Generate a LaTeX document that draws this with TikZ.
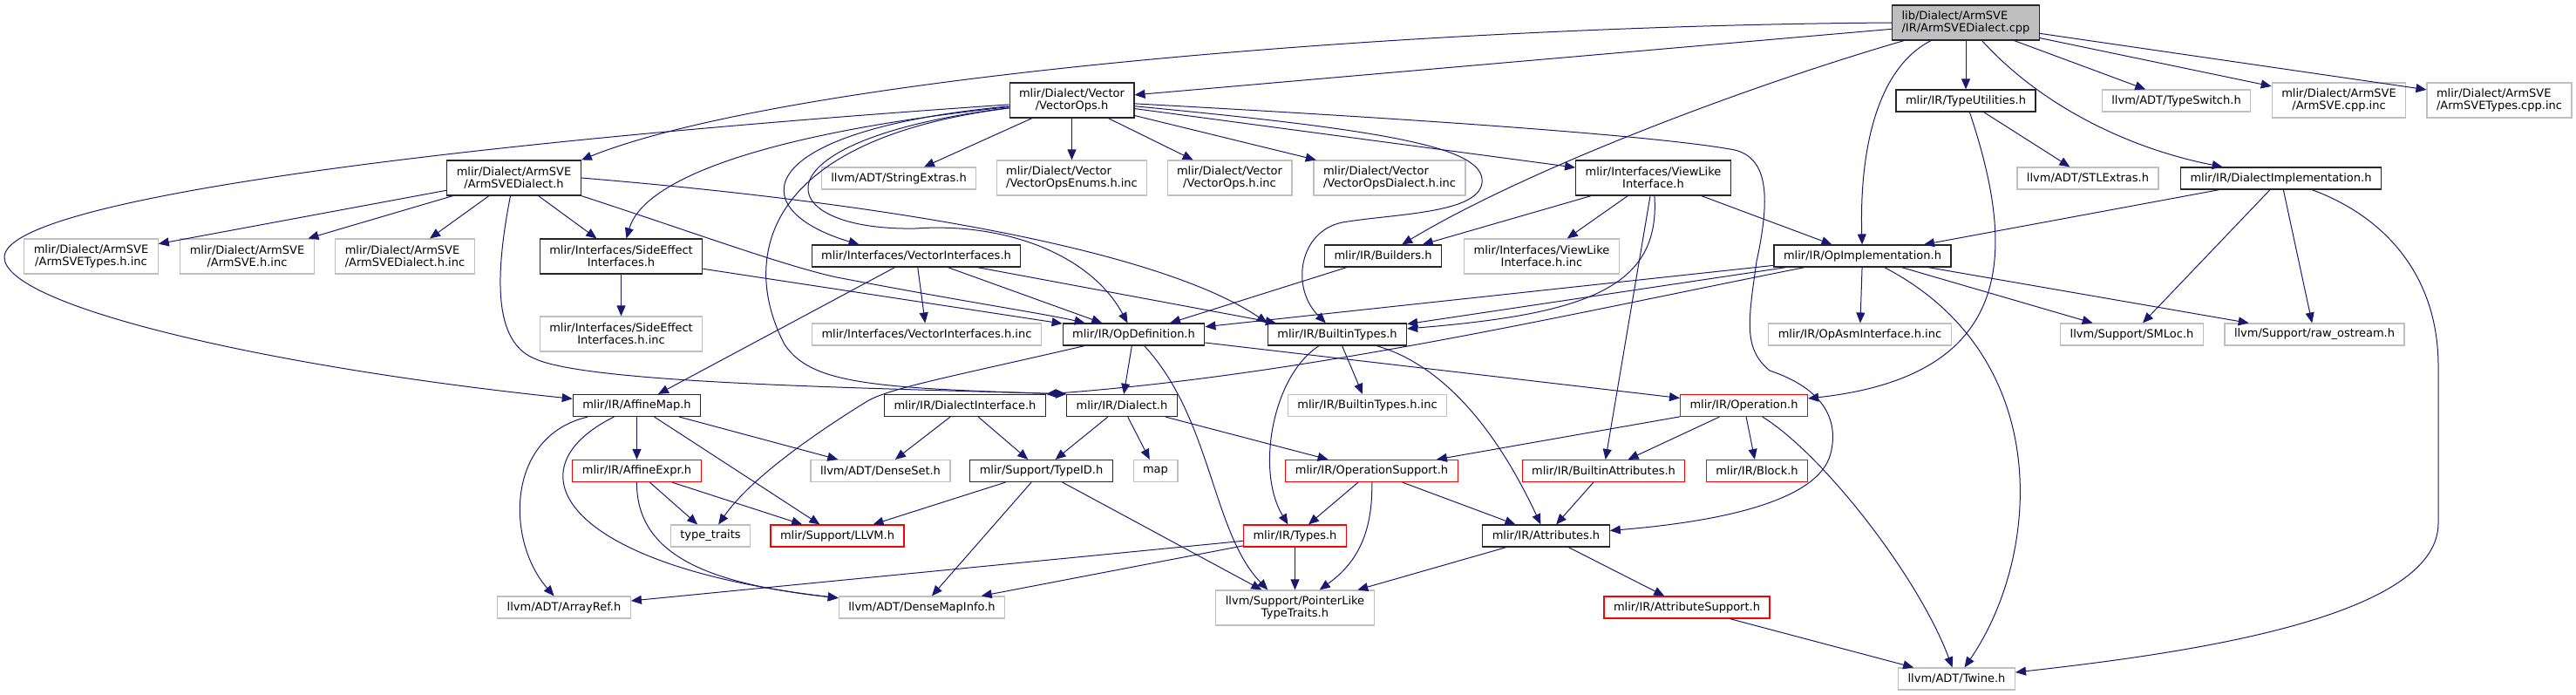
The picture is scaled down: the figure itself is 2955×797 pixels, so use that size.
\documentclass[tikz,border=0pt]{standalone}
\usepackage{fontspec}
\setmainfont{DejaVu Sans}
\usetikzlibrary{arrows.meta}
\definecolor{depblue}{RGB}{25,25,112}
\definecolor{nodocgray}{RGB}{191,191,191}

\begin{document}
\begin{tikzpicture}[x=1pt, y=-1pt, font=\fontsize{13}{14}\selectfont,
  incl/.style={draw=#1, line width=1.15pt, fill=white, inner xsep=11pt,
               inner ysep=2pt, minimum height=25pt, align=center},
  hdr/.style={incl=black!85},
  nodoc/.style={incl=nodocgray},
  trunc/.style={incl=red},
  mainfile/.style={incl=black!85, fill=nodocgray},
  two/.style={minimum height=40pt},
  dep/.style={draw=depblue, line width=1pt, -{Triangle[length=12pt, width=10pt]}}
]
  \useasboundingbox (0,0) rectangle (2955,797);

  \node[mainfile,two,align=left] (cpp) at (2255,26) {lib/Dialect/ArmSVE\\/IR/ArmSVEDialect.cpp};

  \node[hdr,two]   (vops)       at (1229.5,115) {mlir/Dialect/Vector\\/VectorOps.h};
  \node[hdr]       (typeutil)   at (2255,115.5) {mlir/IR/TypeUtilities.h};
  \node[nodoc]     (typeswitch) at (2496.5,115.5) {llvm/ADT/TypeSwitch.h};
  \node[nodoc,two] (svecppinc)  at (2683,115)   {mlir/Dialect/ArmSVE\\/ArmSVE.cpp.inc};
  \node[nodoc,two,align=left] (svetypescppinc) at (2867,115) {mlir/Dialect/ArmSVE\\/ArmSVETypes.cpp.inc};

  \node[hdr,two]   (svedialect) at (589.5,204)  {mlir/Dialect/ArmSVE\\/ArmSVEDialect.h};
  \node[nodoc]     (strextras)  at (1031,204.5) {llvm/ADT/StringExtras.h};
  \node[nodoc,two,align=left] (enumsinc) at (1229.5,204) {mlir/Dialect/Vector\\/VectorOpsEnums.h.inc};
  \node[nodoc,two] (vopsinc)    at (1410.5,204) {mlir/Dialect/Vector\\/VectorOps.h.inc};
  \node[nodoc,two,align=left] (vdialinc) at (1594,204) {mlir/Dialect/Vector\\/VectorOpsDialect.h.inc};
  \node[hdr,two]   (viewlike)   at (1896.5,204) {mlir/Interfaces/ViewLike\\Interface.h};
  \node[nodoc]     (stlextras)  at (2395,204.5) {llvm/ADT/STLExtras.h};
  \node[hdr]       (dialimpl)   at (2616.5,204.5) {mlir/IR/DialectImplementation.h};

  \node[nodoc,two] (svetypesinc) at (104.5,294) {mlir/Dialect/ArmSVE\\/ArmSVETypes.h.inc};
  \node[nodoc,two] (sveinc)      at (283.5,294) {mlir/Dialect/ArmSVE\\/ArmSVE.h.inc};
  \node[nodoc,two,align=left] (svedialinc) at (464.5,294) {mlir/Dialect/ArmSVE\\/ArmSVEDialect.h.inc};
  \node[hdr,two]   (sideeff)     at (712.5,294) {mlir/Interfaces/SideEffect\\Interfaces.h};
  \node[hdr]       (vecintf)     at (1051,293.5) {mlir/Interfaces/VectorInterfaces.h};
  \node[hdr]       (builders)    at (1586.5,293.5) {mlir/IR/Builders.h};
  \node[nodoc,two] (viewlikeinc) at (1768.5,294) {mlir/Interfaces/ViewLike\\Interface.h.inc};
  \node[hdr]       (opimpl)      at (2136.5,293.5) {mlir/IR/OpImplementation.h};

  \node[nodoc,two] (sideeffinc)  at (712.5,383) {mlir/Interfaces/SideEffect\\Interfaces.h.inc};
  \node[nodoc]     (vecintfinc)  at (1063,383.5) {mlir/Interfaces/VectorInterfaces.h.inc};
  \node[hdr]       (opdef)       at (1300.5,383.5) {mlir/IR/OpDefinition.h};
  \node[hdr]       (btypes)      at (1534,383.5) {mlir/IR/BuiltinTypes.h};
  \node[nodoc]     (asminc)      at (2133.5,383.5) {mlir/IR/OpAsmInterface.h.inc};
  \node[nodoc]     (smloc)       at (2445.5,383.5) {llvm/Support/SMLoc.h};
  \node[nodoc]     (rawos)       at (2655,383.5) {llvm/Support/raw\_ostream.h};

  \node[hdr]       (affmap)      at (730.5,465) {mlir/IR/AffineMap.h};
  \node[hdr]       (dialintf)    at (1107,465) {mlir/IR/DialectInterface.h};
  \node[hdr]       (dialect)     at (1287,465) {mlir/IR/Dialect.h};
  \node[nodoc]     (btypesinc)   at (1568.5,465) {mlir/IR/BuiltinTypes.h.inc};
  \node[trunc]     (operation)   at (2000.5,465) {mlir/IR/Operation.h};

  \node[trunc]     (affexpr)     at (730.5,540) {mlir/IR/AffineExpr.h};
  \node[nodoc]     (denseset)    at (1010,540) {llvm/ADT/DenseSet.h};
  \node[hdr]       (typeid)      at (1194.5,540) {mlir/Support/TypeID.h};
  \node[nodoc]     (map)         at (1325.5,540) {map};
  \node[trunc]     (opsupport)   at (1573.5,540) {mlir/IR/OperationSupport.h};
  \node[trunc]     (battrs)      at (1839.5,540) {mlir/IR/BuiltinAttributes.h};
  \node[trunc]     (block)       at (2015.5,540) {mlir/IR/Block.h};

  \node[nodoc]     (typetraits)  at (815,614.5) {type\_traits};
  \node[trunc]     (llvmh)       at (960.5,614.5) {mlir/Support/LLVM.h};
  \node[trunc]     (types)       at (1485.5,614.5) {mlir/IR/Types.h};
  \node[hdr]       (attrs)       at (1773.5,614.5) {mlir/IR/Attributes.h};

  \node[nodoc]     (arrayref)    at (647,696.5) {llvm/ADT/ArrayRef.h};
  \node[nodoc]     (densemap)    at (1057.5,696.5) {llvm/ADT/DenseMapInfo.h};
  \node[nodoc,two] (ptrlike)     at (1485.5,697) {llvm/Support/PointerLike\\TypeTraits.h};
  \node[trunc]     (attrsupport) at (1935,696.5) {mlir/IR/AttributeSupport.h};

  \node[nodoc]     (twine)       at (2244.5,778.5) {llvm/ADT/Twine.h};

  \draw[dep] (cpp.west) .. controls (1600,30) and (900,90) .. (svedialect.north east);
  \draw[dep] (cpp) -- (vops);
  \draw[dep] (cpp) .. controls (2000,100) and (1750,195) .. (builders);
  \draw[dep] (cpp) .. controls (2150,80) and (2133,180) .. (opimpl);
  \draw[dep] (cpp) -- (typeutil);
  \draw[dep] (cpp) .. controls (2340,120) and (2440,170) .. (dialimpl);
  \draw[dep] (cpp) -- (typeswitch);
  \draw[dep] (cpp) -- (svecppinc);
  \draw[dep] (cpp) -- (svetypescppinc);

  \draw[dep] (svedialect) -- (svetypesinc);
  \draw[dep] (svedialect) -- (sveinc);
  \draw[dep] (svedialect) -- (svedialinc);
  \draw[dep] (svedialect) -- (sideeff);
  \draw[dep] (svedialect) .. controls (565,330) and (570,395) .. (615,412)
                          .. controls (680,440) and (1000,445) .. (dialect.north west);
  \draw[dep] (svedialect.south east) .. controls (800,268) and (900,305) .. (960,318)
                                     .. controls (1100,345) and (1200,360) .. (opdef);
  \draw[dep] (svedialect.east) .. controls (1100,240) and (1350,300) .. (btypes.north west);

  \draw[dep] (vops) .. controls (500,165) and (5,230) .. (5,295)
                    .. controls (5,350) and (300,420) .. (affmap);
  \draw[dep] (vops) .. controls (900,150) and (740,200) .. (sideeff);
  \draw[dep] (vops) .. controls (860,150) and (850,240) .. ([xshift=55pt]vecintf.north west);
  \draw[dep] (vops) .. controls (860,160) and (880,265) .. (1050,262)
                    .. controls (1150,255) and (1250,290) .. (opdef);
  \draw[dep] (vops) -- (strextras);
  \draw[dep] (vops) -- (enumsinc);
  \draw[dep] (vops) -- (vopsinc);
  \draw[dep] (vops) -- (vdialinc);
  \draw[dep] (vops) -- (viewlike);
  \draw[dep] (vops) .. controls (870,160) and (850,300) .. (900,395)
                    .. controls (930,440) and (1000,445) .. (dialect.north west);
  \draw[dep] (vops) .. controls (1600,150) and (1705,170) .. (1700,210)
                    .. controls (1695,245) and (1600,245) .. (1540,255)
                    .. controls (1490,265) and (1480,330) .. (btypes);
  \draw[dep] (vops) .. controls (1600,135) and (1900,155) .. (1990,172)
                    .. controls (2030,182) and (2030,230) .. (2015,300)
                    .. controls (2005,370) and (2000,400) .. (2030,425)
                    .. controls (2090,445) and (2110,480) .. (2100,520)
                    .. controls (2085,580) and (1950,600) .. (attrs);

  \draw[dep] (sideeff) -- (sideeffinc);
  \draw[dep] (sideeff) -- (opdef);

  \draw[dep] (vecintf) -- (affmap);
  \draw[dep] (vecintf) -- (vecintfinc);
  \draw[dep] (vecintf) -- (opdef);
  \draw[dep] (vecintf) -- (btypes);

  \draw[dep] (viewlike) -- (builders);
  \draw[dep] (viewlike) -- (viewlikeinc);
  \draw[dep] (viewlike) .. controls (1905,330) and (1820,360) .. (btypes);
  \draw[dep] (viewlike) -- (battrs);
  \draw[dep] (viewlike) -- (opimpl);

  \draw[dep] (typeutil) -- (stlextras);
  \draw[dep] (typeutil) .. controls (2310,280) and (2320,430) .. (operation);

  \draw[dep] (dialimpl) -- (opimpl);
  \draw[dep] (dialimpl) -- (smloc);
  \draw[dep] (dialimpl) -- (rawos);
  \draw[dep] (dialimpl) .. controls (2740,250) and (2797,320) .. (2797,420) -- (2797,600)
                        .. controls (2797,710) and (2500,750) .. (twine);

  \draw[dep] (opimpl) -- (opdef);
  \draw[dep] (opimpl) -- (btypes);
  \draw[dep] (opimpl) .. controls (1800,360) and (1500,430) .. (dialintf.north east);
  \draw[dep] (opimpl) -- (asminc);
  \draw[dep] (opimpl) -- (smloc);
  \draw[dep] (opimpl) -- (rawos);
  \draw[dep] (opimpl) .. controls (2360,410) and (2340,640) .. (twine);

  \draw[dep] (builders) -- (opdef);

  \draw[dep] (opdef) -- (dialect);
  \draw[dep] (opdef) .. controls (1100,430) and (1020,445) .. (995,460)
                     .. controls (930,500) and (860,550) .. (typetraits);
  \draw[dep] (opdef) -- (operation);
  \draw[dep] (opdef) .. controls (1390,480) and (1390,610) .. ([xshift=60pt]ptrlike.north west);

  \draw[dep] (btypes) -- (btypesinc);
  \draw[dep] (btypes) .. controls (1460,430) and (1440,540) .. (types);
  \draw[dep] (btypes) .. controls (1660,420) and (1720,500) .. (attrs);

  \draw[dep] (dialect) -- (typeid);
  \draw[dep] (dialect) -- (map);
  \draw[dep] (dialect) -- (opsupport);

  \draw[dep] (dialintf) -- (denseset);
  \draw[dep] (dialintf) -- (typeid);

  \draw[dep] (affmap) .. controls (580,500) and (580,620) .. (arrayref);
  \draw[dep] (affmap) .. controls (580,540) and (650,650) .. (densemap);
  \draw[dep] (affmap) -- (affexpr);
  \draw[dep] (affmap) -- (llvmh);
  \draw[dep] (affmap) -- (denseset);

  \draw[dep] (affexpr) -- (typetraits);
  \draw[dep] (affexpr) -- (llvmh);
  \draw[dep] (affexpr) .. controls (730,640) and (820,670) .. (densemap);

  \draw[dep] (typeid) -- (llvmh);
  \draw[dep] (typeid) -- (densemap);
  \draw[dep] (typeid) -- (ptrlike);

  \draw[dep] (operation) -- (opsupport);
  \draw[dep] (operation) -- (battrs);
  \draw[dep] (operation) -- (block);
  \draw[dep] (operation) .. controls (2090,520) and (2200,660) .. (twine);

  \draw[dep] (opsupport) -- (types);
  \draw[dep] (opsupport) .. controls (1575,620) and (1550,650) .. (ptrlike);
  \draw[dep] (opsupport) -- (attrs);

  \draw[dep] (battrs) -- (attrs);

  \draw[dep] (types) -- (ptrlike);
  \draw[dep] (types) -- (arrayref);
  \draw[dep] (types) -- (densemap);

  \draw[dep] (attrs) -- (ptrlike);
  \draw[dep] (attrs) -- (attrsupport);

  \draw[dep] (attrsupport) -- (twine);
\end{tikzpicture}
\end{document}
